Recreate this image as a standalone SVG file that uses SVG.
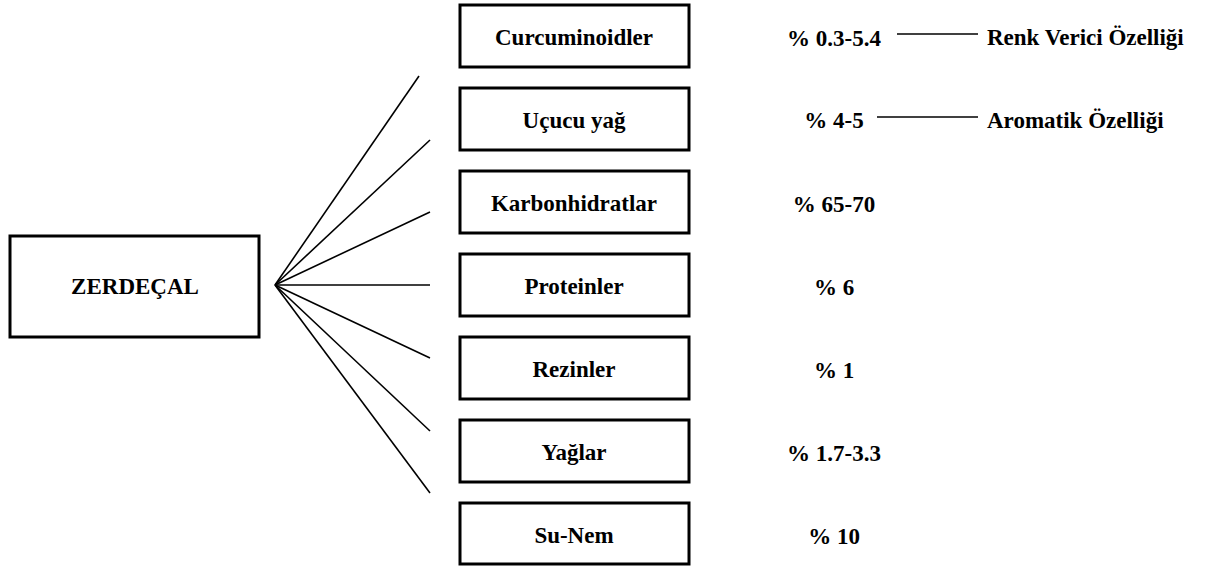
<svg xmlns="http://www.w3.org/2000/svg" width="1211" height="566" viewBox="0 0 1211 566">
<style>
.box{fill:#fff;stroke:#000;stroke-width:3}
.c{stroke:#000;stroke-width:1.6;fill:none}
</style>
<rect width="1211" height="566" fill="#fff"/>
<g font-family="Liberation Serif, Times New Roman, serif" font-weight="bold" font-size="23" fill="#000">
<g id="zerdecal"><rect class="box" x="10" y="236" width="249" height="101"/><text text-anchor="middle" x="135" y="294">ZERDEÇAL</text></g>
<g id="n1"><rect class="box" x="460" y="5" width="229" height="62"/><text text-anchor="middle" x="574" y="45">Curcuminoidler</text><text text-anchor="middle" x="834" y="46">% 0.3-5.4</text><text x="987" y="45">Renk Verici Özelliği</text></g>
<g id="n2"><rect class="box" x="460" y="88" width="229" height="62"/><text text-anchor="middle" x="574" y="128">Uçucu yağ</text><text text-anchor="middle" x="834" y="128">% 4-5</text><text x="987" y="128">Aromatik Özelliği</text></g>
<g id="n3"><rect class="box" x="460" y="171" width="229" height="62"/><text text-anchor="middle" x="574" y="211">Karbonhidratlar</text><text text-anchor="middle" x="834" y="212">% 65-70</text></g>
<g id="n4"><rect class="box" x="460" y="254" width="229" height="62"/><text text-anchor="middle" x="574" y="294">Proteinler</text><text text-anchor="middle" x="834" y="295">% 6</text></g>
<g id="n5"><rect class="box" x="460" y="337" width="229" height="62"/><text text-anchor="middle" x="574" y="377">Rezinler</text><text text-anchor="middle" x="834" y="378">% 1</text></g>
<g id="n6"><rect class="box" x="460" y="420" width="229" height="62"/><text text-anchor="middle" x="574" y="460">Yağlar</text><text text-anchor="middle" x="834" y="461">% 1.7-3.3</text></g>
<g id="n7"><rect class="box" x="460" y="503" width="229" height="61"/><text text-anchor="middle" x="574" y="543">Su-Nem</text><text text-anchor="middle" x="834" y="544">% 10</text></g>
</g>
<g id="connectors">
<line class="c" x1="275" y1="285" x2="419" y2="76"/>
<line class="c" x1="275" y1="285" x2="430" y2="140"/>
<line class="c" x1="275" y1="285" x2="430" y2="212"/>
<line class="c" x1="275" y1="285" x2="430" y2="285"/>
<line class="c" x1="275" y1="285" x2="430" y2="358"/>
<line class="c" x1="275" y1="285" x2="430" y2="431"/>
<line class="c" x1="275" y1="285" x2="430" y2="493"/>
<line class="c" x1="897" y1="34" x2="978" y2="34"/>
<line class="c" x1="877" y1="117" x2="978" y2="117"/>
</g>
</svg>
